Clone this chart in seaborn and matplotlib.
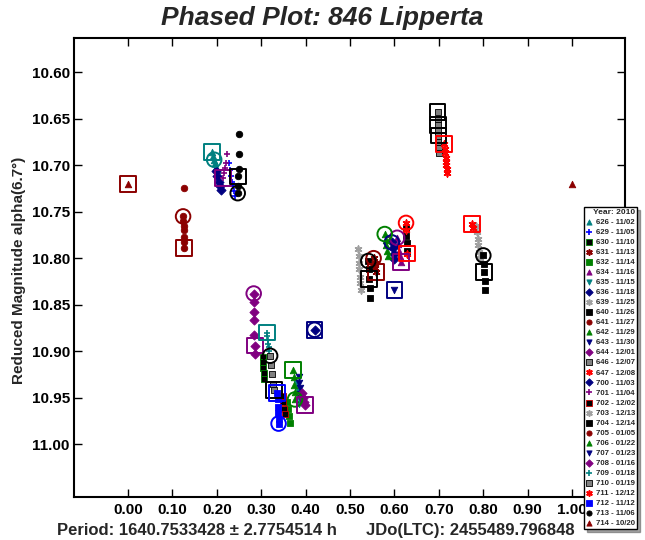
import matplotlib
matplotlib.use("Agg")
import matplotlib.pyplot as plt
import seaborn as sns

sns.set_style("ticks")
plt.rcParams['font.family'] = ['Liberation Sans', 'DejaVu Sans']
plt.rcParams['font.weight'] = 'bold'

# session labels (legend order)
sessions = ["626 - 11/02", "629 - 11/05", "630 - 11/10", "631 - 11/13", "632 - 11/14",
            "634 - 11/16", "635 - 11/15", "636 - 11/18", "639 - 11/25", "640 - 11/26",
            "641 - 11/27", "642 - 11/29", "643 - 11/30", "644 - 12/01", "646 - 12/07",
            "647 - 12/08", "700 - 11/03", "701 - 11/04", "702 - 12/02", "703 - 12/13",
            "704 - 12/14", "705 - 01/05", "706 - 01/22", "707 - 01/23", "708 - 01/16",
            "709 - 01/18", "710 - 01/19", "711 - 12/12", "712 - 11/12", "713 - 11/06",
            "714 - 10/20"]

# phase values per session
phase = {
    "626": [0.190, 0.192, 0.194, 0.196, 0.198, 0.200],
    "629": [0.228, 0.230, 0.232, 0.234, 0.236, 0.238, 0.240],
    "630": [0.303, 0.304, 0.305, 0.306, 0.307],
    "631": [0.553, 0.555, 0.557, 0.559],
    "632": [0.358, 0.360, 0.362, 0.364],
    "634": [0.606, 0.608, 0.610, 0.612, 0.614],
    "635": [0.380, 0.382, 0.384, 0.386],
    "636": [0.420, 0.594, 0.596, 0.598, 0.600],
    "639": [0.518, 0.519, 0.520, 0.521, 0.522, 0.523, 0.524],
    "640": [0.541, 0.542, 0.543, 0.544, 0.545, 0.626, 0.627, 0.628, 0.629],
    "641": [0.124, 0.124, 0.125, 0.125, 0.126, 0.126, 0.127],
    "642": [0.578, 0.580, 0.582, 0.584, 0.586],
    "643": [0.600],
    "644": [0.283, 0.283, 0.284, 0.284, 0.284, 0.285, 0.285],
    "646": [0.697, 0.697, 0.698, 0.698, 0.699, 0.699, 0.700, 0.700],
    "647": [0.712, 0.713, 0.714, 0.715, 0.716, 0.717, 0.718, 0.719],
    "700": [0.198, 0.201, 0.204, 0.207, 0.210],
    "701": [0.222, 0.220, 0.218, 0.216, 0.214],
    "702": [0.348, 0.350, 0.352, 0.354],
    "703": [0.783, 0.785, 0.787, 0.789, 0.791, 0.793],
    "704": [0.800, 0.801, 0.802, 0.803, 0.804],
    "705": [0.126],
    "706": [0.372, 0.373, 0.374, 0.375, 0.376],
    "707": [0.385, 0.386, 0.387, 0.388, 0.389],
    "708": [0.392, 0.394, 0.396, 0.398],
    "709": [0.313, 0.314, 0.315, 0.316, 0.317, 0.318],
    "710": [0.320, 0.322, 0.324, 0.326, 0.328],
    "711": [0.626, 0.627, 0.628, 0.775, 0.776],
    "712": [0.336, 0.337, 0.338, 0.338, 0.339, 0.339],
    "713": [0.250, 0.250, 0.249, 0.248, 0.247, 0.247],
    "714": [0.000, 1.000],
}

# reduced magnitudes per session
mag = {
    "626": [10.686, 10.690, 10.694, 10.698, 10.702, 10.705],
    "629": [10.697, 10.705, 10.712, 10.718, 10.722, 10.728, 10.733],
    "630": [10.906, 10.912, 10.918, 10.924, 10.930],
    "631": [10.800, 10.805, 10.810, 10.815],
    "632": [10.955, 10.962, 10.970, 10.977],
    "634": [10.778, 10.785, 10.792, 10.798, 10.804],
    "635": [10.935, 10.942, 10.950, 10.957],
    "636": [10.877, 10.783, 10.789, 10.795, 10.801],
    "639": [10.790, 10.798, 10.805, 10.812, 10.820, 10.827, 10.834],
    "640": [10.803, 10.812, 10.822, 10.832, 10.843, 10.768, 10.776, 10.784, 10.792],
    "641": [10.755, 10.760, 10.765, 10.770, 10.777, 10.783, 10.789],
    "642": [10.774, 10.780, 10.786, 10.792, 10.798],
    "643": [10.834],
    "644": [10.838, 10.847, 10.858, 10.866, 10.883, 10.894, 10.903],
    "646": [10.643, 10.650, 10.657, 10.663, 10.668, 10.675, 10.681, 10.687],
    "647": [10.677, 10.682, 10.687, 10.692, 10.696, 10.700, 10.704, 10.708],
    "700": [10.706, 10.712, 10.718, 10.722, 10.727],
    "701": [10.688, 10.697, 10.703, 10.708, 10.714],
    "702": [10.948, 10.955, 10.962, 10.968],
    "703": [10.765, 10.772, 10.779, 10.786, 10.793, 10.800],
    "704": [10.797, 10.806, 10.815, 10.825, 10.834],
    "705": [10.724],
    "706": [10.920, 10.928, 10.936, 10.944, 10.952],
    "707": [10.928, 10.934, 10.940, 10.946, 10.952],
    "708": [10.945, 10.950, 10.955, 10.958],
    "709": [10.880, 10.884, 10.888, 10.892, 10.896, 10.900],
    "710": [10.905, 10.915, 10.925, 10.935, 10.942],
    "711": [10.762, 10.770, 10.795, 10.763, 10.768],
    "712": [10.945, 10.952, 10.960, 10.967, 10.973, 10.978],
    "713": [10.666, 10.688, 10.704, 10.712, 10.722, 10.730],
    "714": [10.720, 10.720],
}

# points that carry an open circle / open square (indices into each session)
circle_idx = {"626": [2], "631": [0], "634": [0], "636": [0, 1], "640": [0],
              "642": [0], "644": [0], "641": [0], "704": [0], "706": [4],
              "710": [0], "711": [0], "712": [5], "713": [5]}
square_idx = {"626": [0], "631": [3], "634": [4], "636": [0], "640": [2], "641": [6],
              "643": [0], "644": [5], "646": [0, 2, 4], "647": [0], "701": [4],
              "704": [2], "706": [0], "708": [3], "709": [0], "710": [4],
              "711": [2, 3], "712": [0], "713": [3], "714": [0]}

teal, blue, green, dred = "#008080", "#0000FF", "#008000", "#8B0000"
purple, navy, gray, red = "#800080", "#000080", "#A0A0A0", "#FF0000"
star = (6, 2, 0)

# marker, face colour, edge colour
style = {
    "626": ("^", teal, teal), "629": ("+", blue, None), "630": ("s", "black", green),
    "631": (star, dred, None), "632": ("s", green, green), "634": ("^", purple, purple),
    "635": ("v", teal, teal), "636": ("D", navy, navy), "639": (star, gray, None),
    "640": ("s", "black", "black"), "641": ("o", dred, dred), "642": ("^", green, green),
    "643": ("v", navy, navy), "644": ("D", purple, purple), "646": ("s", "#808080", "black"),
    "647": (star, red, None), "700": ("D", navy, navy), "701": ("+", purple, None),
    "702": ("s", "black", "#CC0000"), "703": (star, gray, None), "704": ("s", "black", "black"),
    "705": ("o", dred, dred), "706": ("^", green, green), "707": ("v", navy, navy),
    "708": ("D", purple, purple), "709": ("+", teal, None), "710": ("s", "#808080", "black"),
    "711": (star, red, None), "712": ("s", blue, blue), "713": ("o", "black", "black"),
    "714": ("^", dred, dred),
}

fig = plt.figure(figsize=(6.45, 5.40), dpi=100)
ax = fig.add_axes([74 / 645, 43 / 540, 551 / 645, 459 / 540])

for lab in sessions:
    key = lab[:3]
    mk, fc, ec = style[key]
    kw = dict(marker=mk, color=fc, s=22, linewidth=1.2 if ec is None else 0.6)
    if ec is not None:
        kw["edgecolor"] = ec
    sns.scatterplot(x=phase[key], y=mag[key], ax=ax, label=lab, zorder=3, **kw)
    edge = fc if ec is None or fc == "black" and ec != "black" else ec
    for i in circle_idx.get(key, []):
        ax.scatter([phase[key][i]], [mag[key][i]], marker="o", s=110,
                   facecolors="none", edgecolors=edge, linewidths=1.4, zorder=4)
    for i in square_idx.get(key, []):
        ax.scatter([phase[key][i]], [mag[key][i]], marker="s", s=130,
                   facecolors="none", edgecolors=edge, linewidths=1.4, zorder=4)

ax.set_xlim(-0.1216, 1.119)
ax.set_ylim(11.057, 10.563)
ax.set_xticks([i / 10 for i in range(11)])
ax.set_xticklabels([f"{i / 10:.2f}" for i in range(11)])
ax.set_yticks([10.60 + 0.05 * i for i in range(9)])
ax.set_yticklabels([f"{10.60 + 0.05 * i:.2f}" for i in range(9)])
ax.tick_params(direction="in", length=6, width=1, top=True, right=True,
               labelsize=11, pad=4, colors="black")
ax.tick_params(axis="y", pad=3)
for sp in ax.spines.values():
    sp.set_linewidth(1.5)
    sp.set_color("black")
ax.set_xlabel("")
ax.set_ylabel("")

fig.text(0.5, 0.966, "Phased Plot: 846 Lipperta", ha="center", va="center",
         fontsize=19, fontweight="bold", fontstyle="italic")
fig.text(0.029, 0.50, "Reduced Magnitude alpha(6.7°)", rotation=90, ha="center",
         va="center", fontsize=11, fontweight="bold")
fig.text(57 / 645, 0.018, "Period: 1640.7533428 ± 2.7754514 h", ha="left",
         va="center", fontsize=12, fontweight="bold")
fig.text(366 / 645, 0.018, "JDo(LTC): 2455489.796848", ha="left",
         va="center", fontsize=12, fontweight="bold")

handles, labels = ax.get_legend_handles_labels()
if ax.get_legend():
    ax.get_legend().remove()
leg = fig.legend(handles, labels, title="Year: 2010", loc="upper left",
                 bbox_to_anchor=(584 / 645, 1 - 207 / 540), fontsize=5.6,
                 title_fontproperties={"size": 6, "weight": "bold"},
                 frameon=True, fancybox=False, shadow=True, edgecolor="black",
                 framealpha=1, borderpad=0.3, labelspacing=0.33, handlelength=0.8,
                 handletextpad=0.4, borderaxespad=0, alignment="right", markerscale=0.8)
leg.get_frame().set_linewidth(1.0)
leg.set_zorder(10)

fig.savefig("out.png", dpi=100, facecolor="white")
